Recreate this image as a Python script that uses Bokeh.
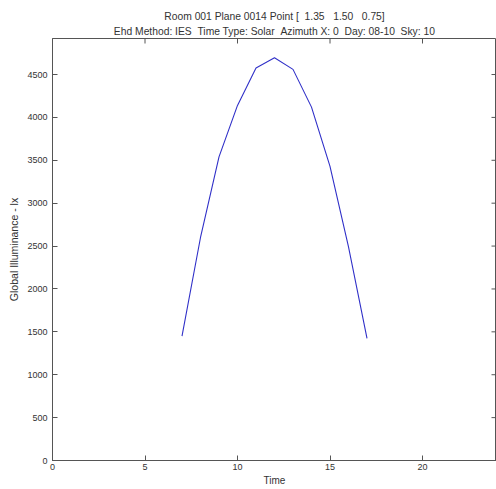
from bokeh.plotting import figure
from bokeh.models import FixedTicker, Range1d, Title
from bokeh.embed import file_html
from bokeh.resources import INLINE

# ---- data ----
time_h = [7, 8, 9, 10, 11, 12, 13, 14, 15, 16, 17]
illum_lx = [1450, 2600, 3540, 4140, 4575, 4695, 4560, 4120, 3430, 2490, 1425]
x_ticks = [0, 5, 10, 15, 20]
y_ticks = [0, 500, 1000, 1500, 2000, 2500, 3000, 3500, 4000, 4500]
NB = "\u00a0"
title_line1 = "Room 001 Plane 0014 Point [" + NB * 2 + "1.35" + NB * 3 + "1.50" + NB * 3 + "0.75]"
title_line2 = ("Ehd Method: IES" + NB * 2 + "Time Type: Solar" + NB * 2 + "Azimuth X: 0"
               + NB * 2 + "Day: 08-10" + NB * 2 + "Sky: 10")
x_label = "Time"
y_label = "Global Illuminance - lx"

X0, X1 = 0, 24
Y0, Y1 = 0, 4920

FONT = "Liberation Sans"
TXT = "#333333"
AX = "#555555"

p = figure(width=496, height=489, output_backend="svg", toolbar_location=None,
           x_range=Range1d(X0, X1), y_range=Range1d(Y0, Y1),
           min_border_left=52, min_border_right=0, min_border_top=38,
           min_border_bottom=29, background_fill_color="white",
           border_fill_color="white", outline_line_color=AX)
p.grid.visible = False

p.line(time_h, illum_lx, line_color="#3030c8", line_width=1.1)

# inward ticks on the top and right edges (box style)
p.scatter(x=x_ticks, y=[Y1] * len(x_ticks), marker="dash", angle=1.5708,
          size=10, line_color=AX, line_width=1)
p.scatter(x=[X1] * len(y_ticks), y=y_ticks, marker="dash",
          size=10, line_color=AX, line_width=1)

for ax in (p.xaxis[0], p.yaxis[0]):
    ax.major_tick_in = 5
    ax.major_tick_out = 0
    ax.minor_tick_in = 0
    ax.minor_tick_out = 0
    ax.axis_line_color = AX
    ax.major_tick_line_color = AX
    ax.major_label_text_font = FONT
    ax.major_label_text_color = TXT
    ax.major_label_text_font_size = "9px"
    ax.axis_label_text_font = FONT
    ax.axis_label_text_color = TXT
    ax.axis_label_text_font_size = "10.5px"
    ax.axis_label_text_font_style = "normal"

xa = p.xaxis[0]
xa.ticker = FixedTicker(ticks=x_ticks)
xa.axis_label = x_label
xa.major_label_standoff = 3
xa.axis_label_standoff = 2
xa.axis_label_text_font_size = "10px"

ya = p.yaxis[0]
ya.ticker = FixedTicker(ticks=y_ticks)
ya.axis_label = y_label
ya.major_label_standoff = 5
ya.axis_label_standoff = 4

t2 = Title(text=title_line2, align="center", text_font=FONT, text_font_size="10.3px",
           text_font_style="normal", text_color=TXT, standoff=4)
p.add_layout(t2, "above")
t1 = Title(text=title_line1, align="center", text_font=FONT, text_font_size="10.3px",
           text_font_style="normal", text_color=TXT, standoff=0)
p.add_layout(t1, "above")

open("out.html", "w").write(file_html(p, INLINE))
